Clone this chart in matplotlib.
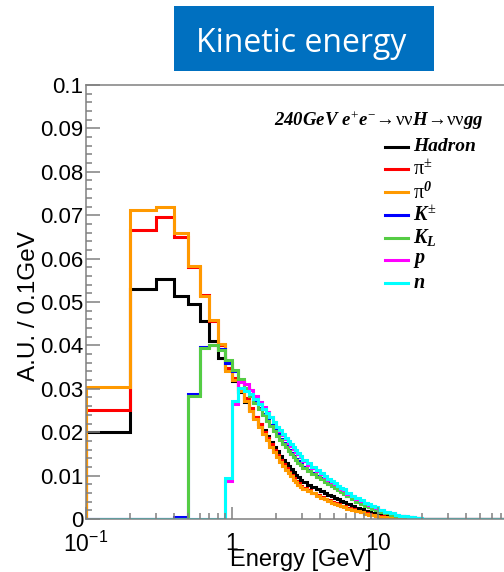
import matplotlib
matplotlib.use("Agg")
import matplotlib.pyplot as plt
from matplotlib.patches import Rectangle
from matplotlib.lines import Line2D
from matplotlib.ticker import FixedLocator, NullFormatter

plt.rcParams['mathtext.fontset'] = 'custom'
plt.rcParams['mathtext.rm'] = 'Liberation Serif'
plt.rcParams['mathtext.it'] = 'Liberation Serif:italic:bold'
plt.rcParams['mathtext.bf'] = 'Liberation Serif:italic:bold'
plt.rcParams['mathtext.sf'] = 'Liberation Sans'
plt.rcParams['mathtext.fallback'] = 'stix'

# ---------------- data ----------------
edges = [0.1, 0.2, 0.3, 0.4, 0.5, 0.6, 0.7, 0.8, 0.9, 1.0,
         1.1, 1.2, 1.3, 1.4, 1.5, 1.6, 1.7, 1.8, 1.9, 2.0,
         2.1, 2.2, 2.3, 2.4, 2.5, 2.6, 2.7, 2.8, 2.9, 3.0,
         3.25, 3.5, 3.75, 4.0, 4.25, 4.5, 4.75, 5.0, 5.25, 5.5, 5.75, 6.0,
         6.5, 7.0, 7.5, 8.0, 8.5, 9.0, 9.5, 10.0,
         11.0, 12.0, 13.0, 14.0, 15.0, 16.0, 17.0, 18.0, 19.0, 20.0,
         30.0, 100.0]

hadron = [0.0200, 0.0530, 0.0553, 0.0514, 0.0495, 0.0457, 0.0410, 0.0370, 0.0345,
          0.0318, 0.0293, 0.0270, 0.0252, 0.0235, 0.0219, 0.0205, 0.0191, 0.0178, 0.0167,
          0.0156, 0.0146, 0.0137, 0.0129, 0.0122, 0.0115, 0.0108, 0.0102, 0.0096, 0.0091,
          0.0085, 0.0079, 0.0074, 0.0069, 0.0065, 0.0060, 0.0056, 0.0052, 0.0048, 0.0045, 0.0042, 0.0039,
          0.0035, 0.0030, 0.0026, 0.0022, 0.0019, 0.0016, 0.0014, 0.0012,
          0.0009, 0.0007, 0.0005, 0.0004, 0.0003, 0.0002, 0.00015, 0.0001, 0.00007, 0.00005,
          0.0, 0.0]

pi_charged = [0.0251, 0.0665, 0.0696, 0.0649, 0.0580, 0.0515, 0.0457, 0.0402, 0.0347,
              0.0325, 0.0300, 0.0278, 0.0256, 0.0236, 0.0218, 0.0201, 0.0186, 0.0172, 0.0159,
              0.0147, 0.0136, 0.0126, 0.0117, 0.0108, 0.0101, 0.0094, 0.0088, 0.0082, 0.0076,
              0.0071, 0.0066, 0.0061, 0.0056, 0.0051, 0.0047, 0.0044, 0.0040, 0.0037, 0.0034, 0.0031, 0.0029,
              0.0025, 0.0022, 0.0019, 0.0016, 0.0013, 0.0011, 0.0009, 0.0008,
              0.0006, 0.0004, 0.0003, 0.0002, 0.00015, 0.0001, 0.00007, 0.00005, 0.00003, 0.00002,
              0.0, 0.0]

pi_zero = [0.0305, 0.0712, 0.0720, 0.0659, 0.0582, 0.0514, 0.0458, 0.0404, 0.0340,
           0.0320, 0.0295, 0.0272, 0.0250, 0.0230, 0.0212, 0.0196, 0.0181, 0.0167, 0.0154,
           0.0142, 0.0132, 0.0122, 0.0113, 0.0105, 0.0098, 0.0091, 0.0085, 0.0079, 0.0074,
           0.0069, 0.0064, 0.0059, 0.0054, 0.0049, 0.0045, 0.0042, 0.0038, 0.0035, 0.0032, 0.0030, 0.0028,
           0.0024, 0.0021, 0.0018, 0.0015, 0.0012, 0.0010, 0.0009, 0.0007,
           0.0005, 0.0004, 0.0003, 0.0002, 0.00012, 0.00008, 0.00005, 0.00003, 0.00002, 0.00001,
           0.0, 0.0]

k_charged = [0.0, 0.0, 0.0, 0.0004, 0.0287, 0.0397, 0.0402, 0.0392, 0.0360,
             0.0340, 0.0318, 0.0301, 0.0285, 0.0270, 0.0255, 0.0241, 0.0228, 0.0216, 0.0205,
             0.0195, 0.0185, 0.0176, 0.0168, 0.0160, 0.0153, 0.0146, 0.0139, 0.0133, 0.0127,
             0.0120, 0.0113, 0.0106, 0.0100, 0.0094, 0.0088, 0.0083, 0.0078, 0.0073, 0.0068, 0.0064, 0.0060,
             0.0054, 0.0048, 0.0042, 0.0037, 0.0032, 0.0028, 0.0025, 0.0022,
             0.0018, 0.0014, 0.0011, 0.0008, 0.0006, 0.0005, 0.0004, 0.0003, 0.0002, 0.0001,
             0.0, 0.0]

k_long = [0.0, 0.0, 0.0, 0.0, 0.0283, 0.0394, 0.0400, 0.0389, 0.0366,
          0.0343, 0.0322, 0.0302, 0.0284, 0.0268, 0.0253, 0.0239, 0.0226, 0.0214, 0.0203,
          0.0192, 0.0182, 0.0173, 0.0165, 0.0157, 0.0150, 0.0143, 0.0136, 0.0130, 0.0124,
          0.0117, 0.0110, 0.0103, 0.0097, 0.0092, 0.0086, 0.0081, 0.0076, 0.0071, 0.0066, 0.0062, 0.0058,
          0.0052, 0.0046, 0.0040, 0.0035, 0.0031, 0.0027, 0.0024, 0.0021,
          0.0017, 0.0013, 0.0010, 0.0008, 0.0006, 0.0005, 0.0004, 0.0003, 0.0002, 0.0001,
          0.0, 0.0]

proton = [0.0, 0.0, 0.0, 0.0, 0.0, 0.0, 0.0, 0.0, 0.0088,
          0.0266, 0.0315, 0.0312, 0.0297, 0.0283, 0.0270, 0.0258, 0.0246, 0.0234, 0.0223,
          0.0212, 0.0202, 0.0193, 0.0184, 0.0176, 0.0169, 0.0162, 0.0155, 0.0149, 0.0143,
          0.0133, 0.0125, 0.0117, 0.0110, 0.0103, 0.0097, 0.0091, 0.0085, 0.0080, 0.0075, 0.0070, 0.0066,
          0.0058, 0.0052, 0.0046, 0.0041, 0.0037, 0.0033, 0.0029, 0.0026,
          0.0021, 0.0017, 0.0013, 0.0010, 0.0008, 0.0006, 0.0005, 0.0004, 0.0003, 0.0002,
          0.00005, 0.0]

neutron = [0.0, 0.0, 0.0, 0.0, 0.0, 0.0, 0.0, 0.0, 0.0095,
           0.0272, 0.0302, 0.0296, 0.0287, 0.0276, 0.0265, 0.0254, 0.0244, 0.0234, 0.0223,
           0.0213, 0.0204, 0.0195, 0.0187, 0.0179, 0.0172, 0.0165, 0.0158, 0.0152, 0.0146,
           0.0136, 0.0128, 0.0120, 0.0113, 0.0106, 0.0099, 0.0093, 0.0087, 0.0082, 0.0077, 0.0072, 0.0068,
           0.0060, 0.0054, 0.0048, 0.0043, 0.0038, 0.0034, 0.0030, 0.0027,
           0.0021, 0.0017, 0.0013, 0.0010, 0.0008, 0.0006, 0.0005, 0.0004, 0.0003, 0.0002,
           0.00005, 0.0]

series_labels = ['Hadron', r'$\mathrm{\pi}^{\pm}$', r'$\mathrm{\pi}^{\mathbf{0}}$',
                 r'$K^{\pm}$', r'$K_{L}$', r'$p$', r'$n$']
series_colors = ['#000000', '#FF0000', '#FF9900', '#0000FF', '#55CC44', '#FF00FF', '#00FFFF']

y_ticks = [0.0, 0.01, 0.02, 0.03, 0.04, 0.05, 0.06, 0.07, 0.08, 0.09, 0.1]
y_tick_labels = ['0', '0.01', '0.02', '0.03', '0.04', '0.05', '0.06', '0.07', '0.08', '0.09', '0.1']
x_ticks = [0.1, 1, 10]
x_tick_labels = [r'$\mathsf{10^{-1}}$', r'$\mathsf{1}$', r'$\mathsf{10}$']

# ---------------- figure ----------------
W, H = 504, 572
fig = plt.figure(figsize=(W / 100, H / 100), dpi=100)

def fx(px):
    return px / W

def fy(py):
    return 1 - py / H

# title box
fig.patches.append(Rectangle((fx(174), fy(71)), fx(260), 65 / H, transform=fig.transFigure,
                             facecolor='#0070C0', edgecolor='none', zorder=0))
fig.text(fx(301.5), fy(51.5), 'Kinetic energy', family='Open Sans', fontsize=23,
         color='white', ha='center', va='baseline')

ax = fig.add_axes([fx(86), fy(519), 438 / W, 434 / H])
ax.set_xscale('log')

all_series = [hadron, pi_charged, pi_zero, k_charged, k_long, proton, neutron]
for vals, col in zip(all_series, series_colors):
    ax.stairs(vals, edges, baseline=0, fill=False, color=col, linewidth=2.2)

ax.set_xlim(0.1, 100)
ax.set_ylim(0, 0.1)

frame_col = '#808080'
for s in ax.spines.values():
    s.set_color(frame_col)
    s.set_linewidth(1.1)

ax.yaxis.set_major_locator(FixedLocator(y_ticks))
ax.yaxis.set_minor_locator(FixedLocator([i * 0.002 for i in range(51)]))
ax.set_yticklabels(y_tick_labels)
ax.xaxis.set_major_locator(FixedLocator(x_ticks))
minor_x = [m * d for d in (0.1, 1, 10) for m in range(2, 10)]
ax.xaxis.set_minor_locator(FixedLocator(minor_x))
ax.xaxis.set_minor_formatter(NullFormatter())
ax.set_xticklabels(x_tick_labels)

ax.tick_params(axis='y', which='major', direction='in', length=10, width=1.1,
               color=frame_col, pad=2, labelsize=16)
ax.tick_params(axis='y', which='minor', direction='in', length=4.3, width=1.1, color=frame_col)
ax.tick_params(axis='x', which='major', direction='in', length=8.6, width=1.1,
               color=frame_col, pad=9, labelsize=16.5)
ax.tick_params(axis='x', which='minor', direction='in', length=4.3, width=1.1, color=frame_col)
for lab in ax.get_yticklabels():
    lab.set_family('Liberation Sans')
for lab in ax.get_xticklabels():
    lab.set_family('Liberation Sans')

fig.text(fx(29), fy(306), 'A.U. / 0.1GeV', family='Liberation Sans', fontsize=17.5,
         rotation=90, ha='center', va='center')
fig.text(fx(301), fy(566), 'Energy [GeV]', family='Liberation Sans', fontsize=17,
         ha='center', va='baseline')

# legend header
fig.text(fx(484), fy(126),
         r'$\mathbf{240GeV}\ e^{+}e^{-}\!\rightarrow\!\mathrm{\nu\nu}H\!\rightarrow\!\mathrm{\nu\nu}gg$',
         fontsize=13.5, ha='right', va='baseline')

# legend entries
for i, (lab, col) in enumerate(zip(series_labels, series_colors)):
    yc = 146.7 + 22.7 * i
    fig.add_artist(Line2D([fx(385), fx(408)], [fy(yc), fy(yc)], color=col, lw=2.2,
                          transform=fig.transFigure))
    if lab == 'Hadron':
        fig.text(fx(413), fy(yc), lab, family='Liberation Serif', weight='bold',
                 style='italic', fontsize=14, ha='left', va='center')
    else:
        fig.text(fx(413), fy(yc), lab, fontsize=14.5, ha='left', va='center')

fig.savefig('out.png', dpi=100)
